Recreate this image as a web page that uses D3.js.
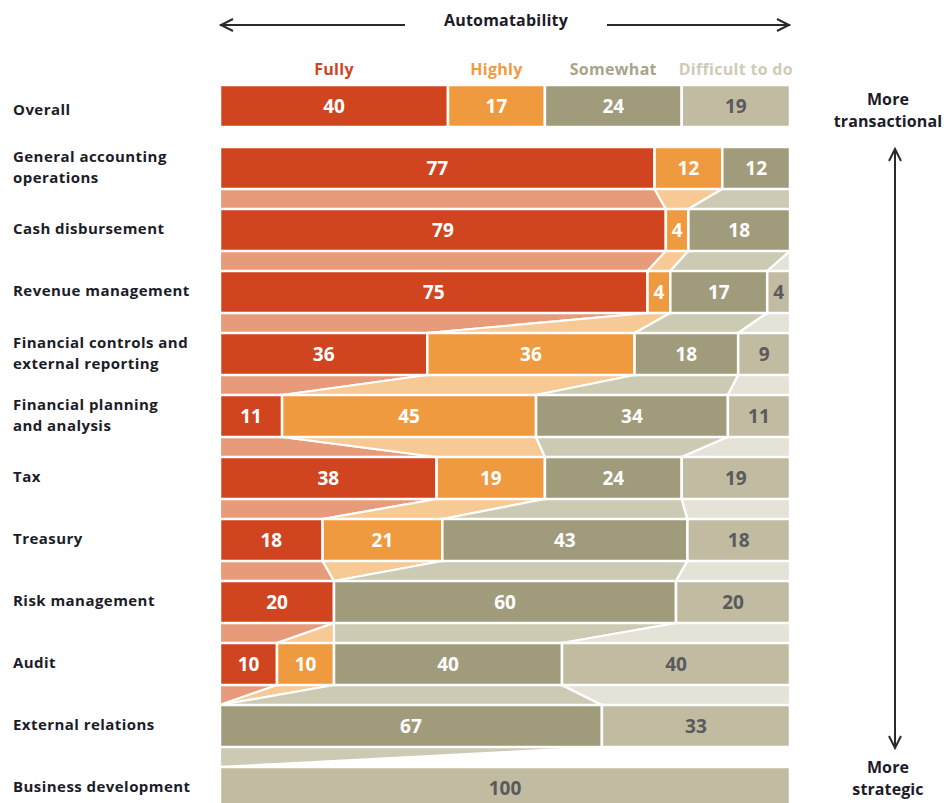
<!DOCTYPE html>
<html>
<head>
<meta charset="utf-8">
<script src="https://cdn.jsdelivr.net/npm/d3@7/dist/d3.min.js"></script>
<style>
  html, body { margin: 0; padding: 0; background: #ffffff; }
  svg { display: block; }
  text { font-family: "Open Sans", "Lato", sans-serif; font-weight: 700; }
</style>
</head>
<body>
<svg id="chart" width="948" height="803"></svg>
<script>
// ---------- DATA ----------
const categories = [
  "Overall",
  "General accounting operations",
  "Cash disbursement",
  "Revenue management",
  "Financial controls and external reporting",
  "Financial planning and analysis",
  "Tax",
  "Treasury",
  "Risk management",
  "Audit",
  "External relations",
  "Business development"
];
const labelLines = [
  ["Overall"],
  ["General accounting", "operations"],
  ["Cash disbursement"],
  ["Revenue management"],
  ["Financial controls and", "external reporting"],
  ["Financial planning", "and analysis"],
  ["Tax"],
  ["Treasury"],
  ["Risk management"],
  ["Audit"],
  ["External relations"],
  ["Business development"]
];
const seriesNames = ["Fully", "Highly", "Somewhat", "Difficult to do"];
const fully     = [40, 77, 79, 75, 36, 11, 38, 18, 20, 10, 0, 0];
const highly    = [17, 12, 4, 4, 36, 45, 19, 21, 0, 10, 0, 0];
const somewhat  = [24, 12, 18, 17, 18, 34, 24, 43, 60, 40, 67, 0];
const difficult = [19, 0, 0, 4, 9, 11, 19, 18, 20, 40, 33, 100];

const barColors   = ["#d04520", "#ef9a3f", "#a09b7b", "#c0bba1"];
const bandColors  = ["#e89b7b", "#f7c995", "#cdcab4", "#e5e3d8"];
const legendColors= ["#d04520", "#ef9a3f", "#a9a488", "#cfcbb7"];
const valueColors = ["#ffffff", "#ffffff", "#ffffff", "#5a5a5c"];
const textColor = "#1c1c28";

// ---------- SCALES ----------
const svg = d3.select("#chart");
const x = d3.scaleLinear().domain([0, 100]).range([220, 790]);
const y = d3.scaleBand().domain(categories).range([85, 85 + 12 * 62 - 20])
  .paddingInner(20 / 62).paddingOuter(0);
const bh = y.bandwidth();

const series = [fully, highly, somewhat, difficult];
// build stacked (normalized to row total) segments
const rows = categories.map((c, i) => {
  const vals = series.map(s => s[i]);
  const total = d3.sum(vals);
  let cum = 0;
  const segs = vals.map((v, k) => {
    const s0 = cum / total * 100;
    cum += v;
    const s1 = cum / total * 100;
    return { k, v, s0, s1 };
  });
  return { cat: c, i, segs };
});

// ---------- BANDS (connectors) ----------
const gBands = svg.append("g");
const noBand = new Set(["Business development|3"]);
for (let i = 1; i < rows.length - 1; i++) {
  const a = rows[i], b = rows[i + 1];
  const yA = y(a.cat) + bh, yB = y(b.cat);
  for (let k = 0; k < 4; k++) {
    if (noBand.has(b.cat + "|" + k)) continue;
    const sa = a.segs[k], sb = b.segs[k];
    if (sa.v === 0 && sb.v === 0) continue;
    const pts = [
      [x(sa.s0), yA], [x(sa.s1), yA],
      [x(sb.s1), yB], [x(sb.s0), yB]
    ];
    gBands.append("polygon")
      .attr("points", pts.map(p => p.join(",")).join(" "))
      .attr("fill", bandColors[k])
      .attr("stroke", "#ffffff")
      .attr("stroke-width", 2.2)
      .attr("stroke-linejoin", "round");
  }
}

// ---------- BARS ----------
const gBars = svg.append("g");
rows.forEach(r => {
  r.segs.forEach(s => {
    if (s.v === 0) return;
    gBars.append("rect")
      .attr("x", x(s.s0))
      .attr("y", y(r.cat))
      .attr("width", x(s.s1) - x(s.s0))
      .attr("height", bh)
      .attr("fill", barColors[s.k])
      .attr("stroke", "#ffffff")
      .attr("stroke-width", 2.5);
    gBars.append("text")
      .attr("x", (x(s.s0) + x(s.s1)) / 2)
      .attr("y", y(r.cat) + bh / 2)
      .attr("dy", "0.36em")
      .attr("text-anchor", "middle")
      .attr("font-size", 19)
      .attr("font-weight", 800)
      .attr("fill", valueColors[s.k])
      .text(s.v);
  });
});

// ---------- ROW LABELS ----------
const gLab = svg.append("g");
rows.forEach((r, i) => {
  const lines = labelLines[i];
  const cy = y(r.cat) + bh / 2 + (i === 0 ? 4 : -1);
  const lh = 20.5;
  lines.forEach((ln, j) => {
    gLab.append("text")
      .attr("x", 13)
      .attr("y", cy + (j - (lines.length - 1) / 2) * lh)
      .attr("dy", "0.36em")
      .attr("font-size", 15)
      .attr("font-weight", 800)
      .attr("letter-spacing", 0.45)
      .attr("fill", textColor)
      .text(ln);
  });
});

// ---------- LEGEND (over Overall segments) ----------
const overall = rows[0];
overall.segs.forEach(s => {
  svg.append("text")
    .attr("x", (x(s.s0) + x(s.s1)) / 2)
    .attr("y", 69)
    .attr("dy", "0.36em")
    .attr("text-anchor", "middle")
    .attr("font-size", 16)
    .attr("letter-spacing", 0.3)
    .attr("fill", legendColors[s.k])
    .text(seriesNames[s.k]);
});

// ---------- TOP AXIS: Automatability ----------
const arrowColor = "#2a2a2a";
svg.append("text")
  .attr("x", 506).attr("y", 20).attr("dy", "0.36em")
  .attr("text-anchor", "middle").attr("font-size", 16)
  .attr("font-weight", 800)
  .attr("letter-spacing", 0.2)
  .attr("fill", textColor).text("Automatability");
const ay = 25;
svg.append("line").attr("x1", x(0)).attr("x2", 405).attr("y1", ay).attr("y2", ay)
  .attr("stroke", arrowColor).attr("stroke-width", 2);
svg.append("path").attr("d", `M${x(0) + 13},${ay - 6} L${x(0) + 1},${ay} L${x(0) + 13},${ay + 6}`)
  .attr("fill", "none").attr("stroke", arrowColor).attr("stroke-width", 2);
svg.append("line").attr("x1", 607).attr("x2", x(100)).attr("y1", ay).attr("y2", ay)
  .attr("stroke", arrowColor).attr("stroke-width", 2);
svg.append("path").attr("d", `M${x(100) - 13},${ay - 6} L${x(100) - 1},${ay} L${x(100) - 13},${ay + 6}`)
  .attr("fill", "none").attr("stroke", arrowColor).attr("stroke-width", 2);

// ---------- RIGHT AXIS ----------
const rx = 888;
[["More", 99], ["transactional", 121], ["More", 767], ["strategic", 789]].forEach(([t, yy]) => {
  svg.append("text").attr("x", rx).attr("y", yy).attr("dy", "0.36em")
    .attr("text-anchor", "middle").attr("font-size", 16)
    .attr("font-weight", 800)
    .attr("letter-spacing", 0.1)
    .attr("fill", textColor).text(t);
});
const vx = 895, vy0 = 149, vy1 = 748;
svg.append("line").attr("x1", vx).attr("x2", vx).attr("y1", vy0).attr("y2", vy1)
  .attr("stroke", arrowColor).attr("stroke-width", 2);
svg.append("path").attr("d", `M${vx - 6},${vy0 + 12} L${vx},${vy0} L${vx + 6},${vy0 + 12}`)
  .attr("fill", "none").attr("stroke", arrowColor).attr("stroke-width", 2);
svg.append("path").attr("d", `M${vx - 6},${vy1 - 12} L${vx},${vy1} L${vx + 6},${vy1 - 12}`)
  .attr("fill", "none").attr("stroke", arrowColor).attr("stroke-width", 2);
</script>
</body>
</html>
